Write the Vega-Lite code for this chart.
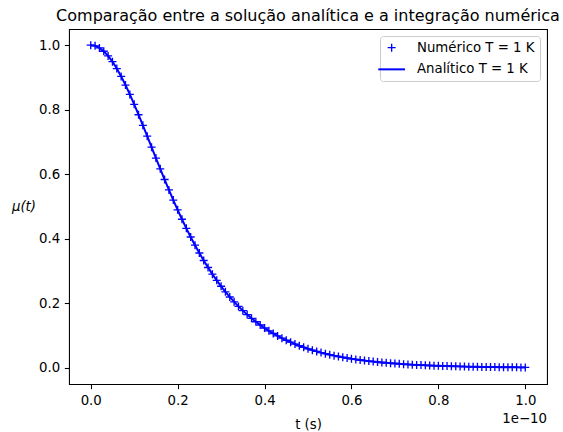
{
  "$schema": "https://vega.github.io/schema/vega-lite/v6.json",
  "width": 478,
  "height": 355,
  "autosize": {"type": "none"},
  "padding": {"left": 69, "top": 29, "right": 16, "bottom": 48},
  "config": {
    "font": "DejaVu Sans",
    "view": {"stroke": "black", "strokeWidth": 1.07},
    "axis": {
      "grid": false,
      "domain": false,
      "tickColor": "black",
      "tickSize": 4.67,
      "tickWidth": 1.07,
      "labelPadding": 4.67,
      "labelFontSize": 13.3,
      "labelColor": "black",
      "titleFontSize": 13.3,
      "titleFontWeight": "normal",
      "titleColor": "black"
    },
    "legend": {
      "orient": "top-right",
      "offset": 7,
      "padding": 5,
      "strokeColor": "#cccccc",
      "fillColor": "rgba(255,255,255,0.8)",
      "cornerRadius": 3,
      "labelFontSize": 13.3,
      "labelColor": "black",
      "labelOffset": 18.7,
      "symbolSize": 713,
      "rowPadding": 6.7
    }
  },
  "title": {
    "text": "Comparação entre a solução analítica e a integração numérica",
    "fontSize": 16,
    "fontWeight": "normal",
    "color": "black",
    "offset": 5,
    "anchor": "middle"
  },
  "data": {
    "values": [
      {"t": 0, "mu": 1},
      {"t": 1e-12, "mu": 0.9979},
      {"t": 2e-12, "mu": 0.9915},
      {"t": 3e-12, "mu": 0.9811},
      {"t": 4e-12, "mu": 0.9667},
      {"t": 5e-12, "mu": 0.9487},
      {"t": 6e-12, "mu": 0.9274},
      {"t": 7e-12, "mu": 0.9031},
      {"t": 8e-12, "mu": 0.8763},
      {"t": 9e-12, "mu": 0.8473},
      {"t": 1e-11, "mu": 0.8165},
      {"t": 1.1e-11, "mu": 0.7844},
      {"t": 1.2e-11, "mu": 0.7514},
      {"t": 1.3e-11, "mu": 0.7178},
      {"t": 1.4e-11, "mu": 0.6839},
      {"t": 1.5e-11, "mu": 0.6501},
      {"t": 1.6e-11, "mu": 0.6166},
      {"t": 1.7e-11, "mu": 0.5836},
      {"t": 1.8e-11, "mu": 0.5513},
      {"t": 1.9e-11, "mu": 0.5200},
      {"t": 2e-11, "mu": 0.4897},
      {"t": 2.1e-11, "mu": 0.4605},
      {"t": 2.2e-11, "mu": 0.4324},
      {"t": 2.3e-11, "mu": 0.4056},
      {"t": 2.4e-11, "mu": 0.3801},
      {"t": 2.5e-11, "mu": 0.3558},
      {"t": 2.6e-11, "mu": 0.3328},
      {"t": 2.7e-11, "mu": 0.3110},
      {"t": 2.8e-11, "mu": 0.2904},
      {"t": 2.9e-11, "mu": 0.2711},
      {"t": 3e-11, "mu": 0.2528},
      {"t": 3.1e-11, "mu": 0.2357},
      {"t": 3.2e-11, "mu": 0.2197},
      {"t": 3.3e-11, "mu": 0.2046},
      {"t": 3.4e-11, "mu": 0.1905},
      {"t": 3.5e-11, "mu": 0.1773},
      {"t": 3.6e-11, "mu": 0.1650},
      {"t": 3.7e-11, "mu": 0.1535},
      {"t": 3.8e-11, "mu": 0.1428},
      {"t": 3.9e-11, "mu": 0.1328},
      {"t": 4e-11, "mu": 0.1234},
      {"t": 4.1e-11, "mu": 0.1147},
      {"t": 4.2e-11, "mu": 0.1066},
      {"t": 4.3e-11, "mu": 0.0991},
      {"t": 4.4e-11, "mu": 0.0921},
      {"t": 4.5e-11, "mu": 0.0855},
      {"t": 4.6e-11, "mu": 0.0795},
      {"t": 4.7e-11, "mu": 0.0738},
      {"t": 4.8e-11, "mu": 0.0686},
      {"t": 4.9e-11, "mu": 0.0637},
      {"t": 5e-11, "mu": 0.0591},
      {"t": 5.1e-11, "mu": 0.0549},
      {"t": 5.2e-11, "mu": 0.0510},
      {"t": 5.3e-11, "mu": 0.0473},
      {"t": 5.4e-11, "mu": 0.0440},
      {"t": 5.5e-11, "mu": 0.0408},
      {"t": 5.6e-11, "mu": 0.0379},
      {"t": 5.7e-11, "mu": 0.0352},
      {"t": 5.8e-11, "mu": 0.0327},
      {"t": 5.9e-11, "mu": 0.0303},
      {"t": 6e-11, "mu": 0.0282},
      {"t": 6.1e-11, "mu": 0.0261},
      {"t": 6.2e-11, "mu": 0.0243},
      {"t": 6.3e-11, "mu": 0.0225},
      {"t": 6.4e-11, "mu": 0.0209},
      {"t": 6.5e-11, "mu": 0.0194},
      {"t": 6.6e-11, "mu": 0.0180},
      {"t": 6.7e-11, "mu": 0.0167},
      {"t": 6.8e-11, "mu": 0.0155},
      {"t": 6.9e-11, "mu": 0.0144},
      {"t": 7e-11, "mu": 0.0134},
      {"t": 7.1e-11, "mu": 0.0124},
      {"t": 7.2e-11, "mu": 0.0115},
      {"t": 7.3e-11, "mu": 0.0107},
      {"t": 7.4e-11, "mu": 0.0099},
      {"t": 7.5e-11, "mu": 0.0092},
      {"t": 7.6e-11, "mu": 0.0086},
      {"t": 7.7e-11, "mu": 0.0079},
      {"t": 7.8e-11, "mu": 0.0074},
      {"t": 7.9e-11, "mu": 0.0068},
      {"t": 8e-11, "mu": 0.0064},
      {"t": 8.1e-11, "mu": 0.0059},
      {"t": 8.2e-11, "mu": 0.0055},
      {"t": 8.3e-11, "mu": 0.0051},
      {"t": 8.4e-11, "mu": 0.0047},
      {"t": 8.5e-11, "mu": 0.0044},
      {"t": 8.6e-11, "mu": 0.0041},
      {"t": 8.7e-11, "mu": 0.0038},
      {"t": 8.8e-11, "mu": 0.0035},
      {"t": 8.9e-11, "mu": 0.0032},
      {"t": 9e-11, "mu": 0.0030},
      {"t": 9.1e-11, "mu": 0.0028},
      {"t": 9.2e-11, "mu": 0.0026},
      {"t": 9.3e-11, "mu": 0.0024},
      {"t": 9.4e-11, "mu": 0.0022},
      {"t": 9.5e-11, "mu": 0.0021},
      {"t": 9.6e-11, "mu": 0.0019},
      {"t": 9.7e-11, "mu": 0.0018},
      {"t": 9.8e-11, "mu": 0.0017},
      {"t": 9.9e-11, "mu": 0.0015},
      {"t": 1e-10, "mu": 0.0014}
    ]
  },
  "layer": [
    {
      "mark": {"type": "point", "shape": "M-1,0H1M0,-1V1", "filled": false, "strokeWidth": 1.33, "size": 64, "opacity": 1},
      "encoding": {
        "x": {
          "field": "t",
          "type": "quantitative",
          "scale": {"domain": [-5e-12, 1.05e-10], "nice": false, "zero": false},
          "axis": {
            "values": [0, 2e-11, 4e-11, 6e-11, 8e-11, 1e-10],
            "labelExpr": "format(datum.value * 1e10, '.1f')",
            "title": "t (s)",
            "titlePadding": 10.5
          }
        },
        "y": {
          "field": "mu",
          "type": "quantitative",
          "scale": {"domain": [-0.05, 1.05], "nice": false, "zero": false},
          "axis": {
            "values": [0, 0.2, 0.4, 0.6, 0.8, 1.0],
            "format": ".1f",
            "title": "μ(t)",
            "titleAngle": 0,
            "titleAlign": "right",
            "titleBaseline": "middle",
            "titleFontStyle": "italic",
            "titlePadding": 3
          }
        },
        "color": {
          "datum": "Numérico T = 1 K",
          "type": "nominal",
          "scale": {"domain": ["Numérico T = 1 K", "Analítico T = 1 K"], "range": ["blue", "blue"]},
          "legend": {
            "title": null,
            "encode": {
              "symbols": {
                "update": {
                  "shape": {"signal": "datum.label === 'Numérico T = 1 K' ? 'M-1,0H1M0,-1V1' : 'M-1,0H1'"},
                  "size": {"signal": "datum.label === 'Numérico T = 1 K' ? 64 : 713"},
                  "strokeWidth": {"signal": "datum.label === 'Numérico T = 1 K' ? 1.33 : 2"},
                  "stroke": {"value": "blue"},
                  "fill": {"value": "transparent"},
                  "opacity": {"value": 1}
                }
              }
            }
          }
        }
      }
    },
    {
      "mark": {"type": "line", "strokeWidth": 2},
      "encoding": {
        "x": {"field": "t", "type": "quantitative"},
        "y": {"field": "mu", "type": "quantitative"},
        "color": {
          "datum": "Analítico T = 1 K",
          "type": "nominal",
          "legend": {
            "title": null,
            "encode": {
              "symbols": {
                "update": {
                  "shape": {"signal": "datum.label === 'Numérico T = 1 K' ? 'M-1,0H1M0,-1V1' : 'M-1,0H1'"},
                  "size": {"signal": "datum.label === 'Numérico T = 1 K' ? 64 : 713"},
                  "strokeWidth": {"signal": "datum.label === 'Numérico T = 1 K' ? 1.33 : 2"},
                  "stroke": {"value": "blue"},
                  "fill": {"value": "transparent"},
                  "opacity": {"value": 1}
                }
              }
            }
          }
        }
      }
    },
    {
      "data": {"values": [{"label": "1e−10"}]},
      "mark": {"type": "text", "align": "right", "baseline": "middle", "dy": 35, "fontSize": 13.3, "color": "black"},
      "encoding": {
        "x": {"datum": 1.05e-10, "type": "quantitative"},
        "y": {"datum": -0.05, "type": "quantitative"},
        "text": {"field": "label"}
      }
    }
  ]
}
